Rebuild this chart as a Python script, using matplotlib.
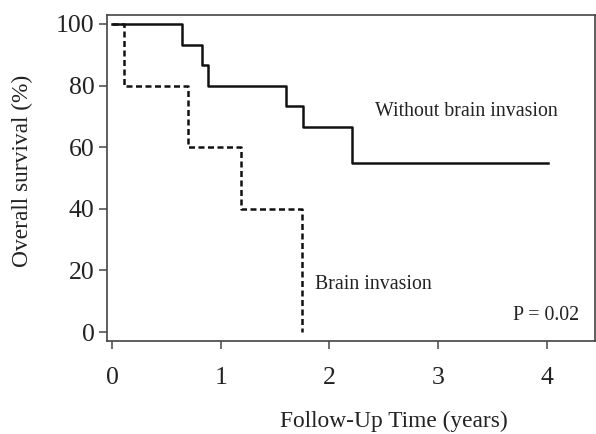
import matplotlib.pyplot as plt

plt.rcParams['font.family'] = ['Liberation Serif', 'DejaVu Serif']

# Kaplan-Meier steps (years, % survival)
t_without = [0.0, 0.64, 0.83, 0.88, 1.60, 1.76, 2.21, 4.01]
s_without = [100, 93.3, 86.7, 80.0, 73.3, 66.7, 55.0, 55.0]

t_brain = [0.0, 0.11, 0.70, 1.19, 1.75, 1.75]
s_brain = [100, 80, 60, 40, 0, 0]

x_ticks = [0, 1, 2, 3, 4]
y_ticks = [0, 20, 40, 60, 80, 100]

fig = plt.figure(figsize=(5.96, 4.34), dpi=100)
ax = fig.add_axes([0.1795, 0.2143, 0.8185, 0.7511])

ax.step(t_without, s_without, where='post', color='#111111', lw=1.8)
ax.step(t_brain, s_brain, where='post', color='#111111', lw=1.8,
        linestyle=(0, (2.4, 1.4)))

ax.set_xlim(-0.046, 4.44)
ax.set_ylim(-2.9, 102.9)
ax.set_xticks(x_ticks)
ax.set_yticks(y_ticks)
ax.tick_params(labelsize=18.5, length=6, width=1.2, color='#555555',
               labelcolor='#222222')
ax.tick_params(axis='x', pad=13)
ax.tick_params(axis='y', pad=3)
for sp in ax.spines.values():
    sp.set_color('#444444')
    sp.set_linewidth(1.2)

ax.text(2.42, 71.5, 'Without brain invasion', fontsize=14.3, color='#222222',
        va='center')
ax.text(1.87, 15.5, 'Brain invasion', fontsize=14.3, color='#222222',
        va='center')
ax.text(4.30, 5.5, 'P = 0.02', fontsize=14.3, color='#222222',
        va='center', ha='right')

fig.text(0.037, 0.606, 'Overall survival (%)', fontsize=16.8, color='#222222',
         rotation=90, ha='center', va='center')
fig.text(0.661, 0.03, 'Follow-Up Time (years)', fontsize=16.8, color='#222222',
         ha='center', va='center')

fig.savefig('out.png', dpi=100)
